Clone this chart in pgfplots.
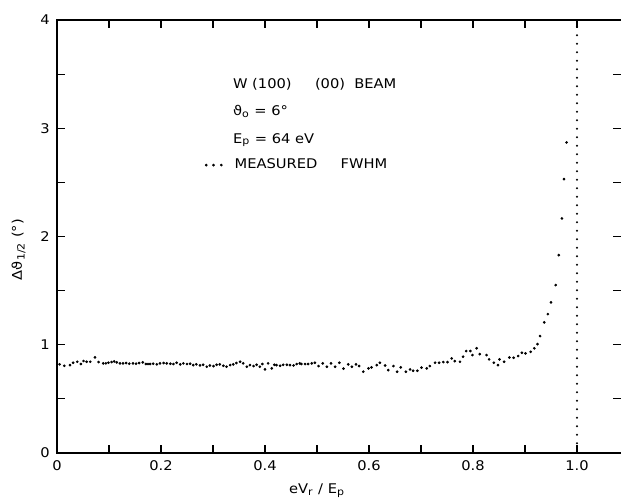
\documentclass[border=0pt]{standalone}
\usepackage{fontspec}
\setmainfont[FakeStretch=1.1]{DejaVu Sans}
\usepackage{pgfplots}
\pgfplotsset{compat=1.18}
\begin{document}
\fontsize{8}{10}\selectfont
\begin{tikzpicture}
\begin{axis}[
  scale only axis, width=338.7pt, height=259.8pt,
  at={(0,0)}, anchor=south west,
  xmin=0, xmax=1.0856, ymin=0, ymax=4,
  clip mode=individual,
  xtick={0,0.2,0.4,0.6,0.8,1.0},
  xticklabels={0,0.2,0.4,0.6,0.8,1.0},
  minor xtick={0.1,0.3,0.5,0.7,0.9},
  ytick={0,1,2,3,4},
  minor ytick={0.5,1.5,2.5,3.5},
  tick align=inside,
  major tick length=4.8pt, minor tick length=4.8pt,
  tick style={black, line width=0.7pt},
  axis line style={line width=0.8pt},
  /pgf/number format/assume math mode=true,
  ticklabel style={font=\fontsize{8}{9}\selectfont},
  xticklabel style={yshift=-1.5pt},
  yticklabel style={xshift=-1.5pt},
]
\addplot[only marks, mark=*, mark size=0.6pt, black] table {
x y
0.005 0.819
0.014 0.806
0.025 0.812
0.031 0.834
0.039 0.843
0.046 0.822
0.051 0.850
0.057 0.843
0.064 0.843
0.073 0.883
0.080 0.840
0.089 0.828
0.094 0.828
0.099 0.834
0.105 0.840
0.110 0.846
0.115 0.837
0.121 0.828
0.127 0.828
0.133 0.831
0.139 0.825
0.146 0.828
0.152 0.825
0.158 0.831
0.165 0.837
0.171 0.822
0.175 0.822
0.179 0.822
0.185 0.825
0.192 0.819
0.198 0.828
0.205 0.831
0.211 0.828
0.218 0.825
0.224 0.822
0.230 0.834
0.237 0.819
0.243 0.828
0.250 0.822
0.256 0.825
0.262 0.812
0.268 0.819
0.275 0.809
0.281 0.815
0.288 0.797
0.294 0.809
0.301 0.803
0.307 0.815
0.313 0.819
0.320 0.806
0.326 0.797
0.333 0.812
0.339 0.819
0.345 0.831
0.352 0.843
0.358 0.828
0.365 0.797
0.371 0.812
0.378 0.803
0.384 0.815
0.390 0.797
0.395 0.822
0.400 0.772
0.406 0.828
0.413 0.781
0.418 0.815
0.422 0.812
0.429 0.806
0.435 0.815
0.442 0.815
0.448 0.812
0.455 0.809
0.461 0.822
0.467 0.828
0.470 0.822
0.477 0.822
0.483 0.822
0.490 0.828
0.496 0.834
0.503 0.803
0.511 0.828
0.519 0.797
0.527 0.828
0.535 0.797
0.543 0.834
0.551 0.779
0.560 0.819
0.567 0.797
0.575 0.819
0.581 0.803
0.589 0.751
0.599 0.782
0.605 0.791
0.615 0.812
0.621 0.834
0.631 0.809
0.637 0.766
0.647 0.803
0.654 0.751
0.661 0.791
0.671 0.751
0.679 0.772
0.685 0.760
0.693 0.760
0.701 0.788
0.711 0.782
0.717 0.803
0.727 0.834
0.735 0.834
0.743 0.840
0.751 0.840
0.759 0.874
0.765 0.849
0.775 0.843
0.781 0.890
0.787 0.942
0.795 0.942
0.799 0.905
0.807 0.967
0.813 0.914
0.826 0.905
0.831 0.865
0.840 0.834
0.848 0.812
0.851 0.865
0.860 0.843
0.870 0.883
0.878 0.880
0.887 0.896
0.894 0.926
0.901 0.920
0.911 0.935
0.918 0.967
0.924 1.006
0.929 1.080
0.937 1.207
0.944 1.283
0.950 1.391
0.959 1.551
0.965 1.828
0.971 2.167
0.975 2.530
0.980 2.869
};
\addplot[black, line width=1.4pt, line cap=round, dash pattern=on 0pt off 5.1pt] coordinates {(1,0.09) (1,3.94)};
\addplot[only marks, mark=*, mark size=0.6pt, black] coordinates {(0.287,2.66) (0.301,2.66) (0.316,2.66)};
\node[anchor=base west, inner sep=0pt] at (axis cs:0.338,3.37) {W (100)\hspace{14pt}(00)\hspace{5.5pt}BEAM};
\node[anchor=base west, inner sep=0pt] at (axis cs:0.338,3.116) {ϑ\textsubscript{o} = 6°};
\node[anchor=base west, inner sep=0pt] at (axis cs:0.338,2.861) {E\textsubscript{p} = 64 eV};
\node[anchor=base west, inner sep=0pt] at (axis cs:0.341,2.63) {MEASURED\hspace{14pt}FWHM};
\node[anchor=center] at ([yshift=-22.5pt]axis cs:0.5,0) {eV\textsubscript{r} / E\textsubscript{p}};
\node[anchor=center, rotate=90] at ([xshift=-23pt]axis cs:0,1.88) {Δϑ\textsubscript{1/2} (°)};
\end{axis}
\pgfresetboundingbox
\useasboundingbox (-34.2pt,-28.8pt) rectangle (338.4pt,271.8pt);
\end{tikzpicture}
\end{document}
